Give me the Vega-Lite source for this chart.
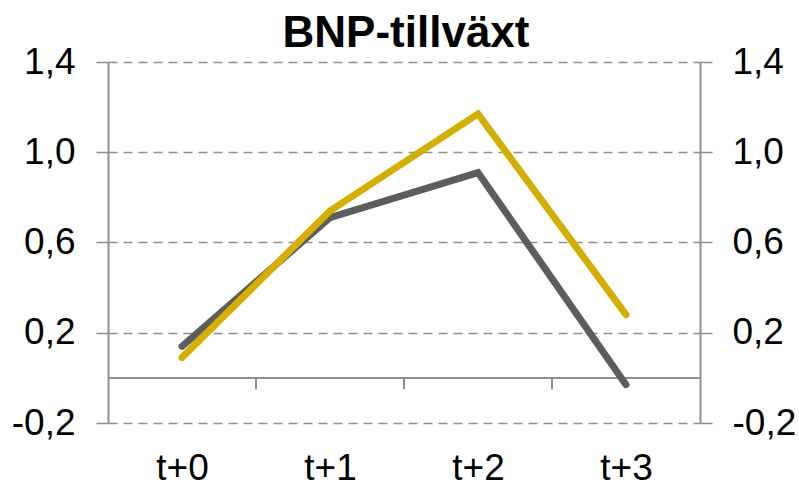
{
  "$schema": "https://vega.github.io/schema/vega-lite/v6.json",
  "width": 592,
  "height": 361,
  "autosize": {"type": "none"},
  "padding": {"left": 108, "top": 62, "right": 99, "bottom": 59},
  "title": {
    "text": "BNP-tillväxt",
    "font": "Liberation Sans",
    "fontSize": 44,
    "fontWeight": "bold",
    "color": "#000000",
    "anchor": "middle",
    "offset": 6,
    "dy": 19,
    "dx": 2
  },
  "config": {
    "view": {"stroke": null},
    "axis": {"labelFont": "Liberation Sans", "labelFontSize": 37, "labelColor": "#000000"}
  },
  "datasets": {
    "gdp": [
      {"t": "t+0", "s": "gray", "v": 0.14},
      {"t": "t+1", "s": "gray", "v": 0.71},
      {"t": "t+2", "s": "gray", "v": 0.91},
      {"t": "t+3", "s": "gray", "v": -0.03},
      {"t": "t+0", "s": "yellow", "v": 0.09},
      {"t": "t+1", "s": "yellow", "v": 0.74},
      {"t": "t+2", "s": "yellow", "v": 1.17},
      {"t": "t+3", "s": "yellow", "v": 0.28}
    ],
    "bounds": [{"b": 1}, {"b": 2}, {"b": 3}]
  },
  "layer": [
    {
      "data": {"name": "bounds"},
      "layer": [
        {
          "mark": {"type": "rule", "color": "#8f8f8f", "strokeWidth": 2},
          "encoding": {
            "y": {
              "datum": 0,
              "type": "quantitative",
              "scale": {"domain": [-0.2, 1.4], "nice": false, "zero": false},
              "axis": {
                "orient": "right",
                "values": [-0.2, 0.2, 0.6, 1.0, 1.4],
                "grid": false,
                "domainColor": "#8f8f8f",
                "domainWidth": 2,
                "tickColor": "#8f8f8f",
                "tickWidth": 1.5,
                "tickSize": 12,
                "labelPadding": 20,
                "labelExpr": "replace(replace(format(datum.value, '.1f'), '.', ','), '\u2212', '-')",
                "title": null
              }
            }
          }
        },
        {
          "mark": {"type": "rule", "color": "#8f8f8f", "strokeWidth": 2},
          "encoding": {
            "x": {"field": "b", "type": "quantitative", "scale": {"domain": [0, 4], "nice": false, "zero": false}, "axis": null},
            "y": {"datum": 0, "type": "quantitative"},
            "y2": {"datum": -0.05}
          }
        }
      ]
    },
    {
      "data": {"name": "gdp"},
      "encoding": {
        "x": {
          "field": "t",
          "type": "nominal",
          "sort": ["t+0", "t+1", "t+2", "t+3"],
          "scale": {"type": "point", "padding": 0.5},
          "axis": {
            "orient": "bottom",
            "domain": false,
            "ticks": false,
            "tickSize": 0,
            "labelPadding": 27,
            "labelAngle": 0,
            "title": null
          }
        },
        "y": {
          "field": "v",
          "type": "quantitative",
          "scale": {"domain": [-0.2, 1.4], "nice": false, "zero": false},
          "axis": {
            "orient": "left",
            "values": [-0.2, 0.2, 0.6, 1.0, 1.4],
            "grid": true,
            "gridColor": "#8f8f8f",
            "gridDash": [9, 6],
            "gridWidth": 1.5,
            "domainColor": "#8f8f8f",
            "domainWidth": 2,
            "tickColor": "#8f8f8f",
            "tickWidth": 1.5,
            "tickSize": 12,
            "labelPadding": 21,
            "labelExpr": "replace(replace(format(datum.value, '.1f'), '.', ','), '\u2212', '-')",
            "title": null
          }
        }
      },
      "layer": [
        {
          "transform": [{"filter": "datum.s == 'gray'"}],
          "mark": {"type": "line", "color": "#5d5d5d", "strokeWidth": 7, "strokeCap": "round", "strokeJoin": "miter"}
        },
        {
          "transform": [{"filter": "datum.s == 'yellow'"}],
          "mark": {"type": "line", "color": "#d4ae00", "strokeWidth": 7, "strokeCap": "round", "strokeJoin": "miter"}
        }
      ]
    }
  ],
  "resolve": {"scale": {"x": "independent", "y": "independent"}}
}
